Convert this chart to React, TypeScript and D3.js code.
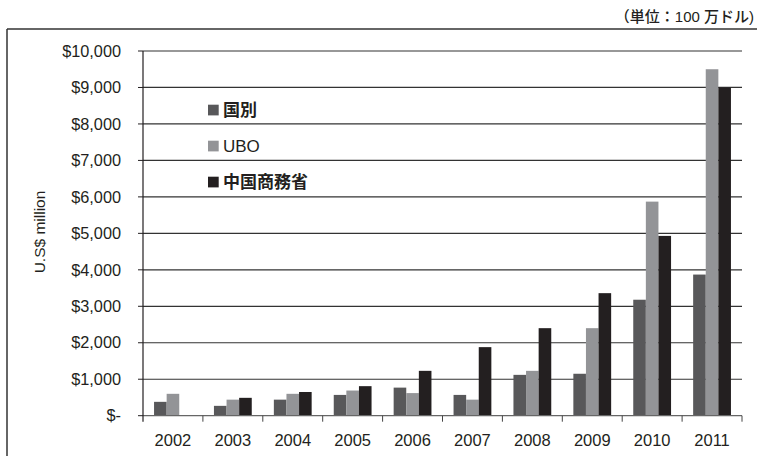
import React from "react";
import * as d3 from "d3";

const years = ["2002", "2003", "2004", "2005", "2006", "2007", "2008", "2009", "2010", "2011"];
const seriesNames = ["国別", "UBO", "中国商務省"];
const byCountry = [380, 270, 440, 570, 770, 570, 1120, 1150, 3180, 3870];
const ubo = [600, 440, 600, 690, 620, 440, 1230, 2400, 5870, 9500];
const mofcom = [0, 490, 650, 810, 1230, 1880, 2400, 3360, 4930, 9000];
const yTicks = [0, 1000, 2000, 3000, 4000, 5000, 6000, 7000, 8000, 9000, 10000];
const colors = ["#58585a", "#939497", "#231f20"];

const W = 757;
const H = 456;
const FONT = "'Liberation Sans', Arial, 'Noto Sans CJK JP', sans-serif";

export default function App() {
  const x = d3.scaleBand<string>().domain(years).range([143, 742]).paddingInner(0).paddingOuter(0);
  const y = d3.scaleLinear().domain([0, 10000]).range([415.7, 51]);
  const series = [byCountry, ubo, mofcom];
  const barW = 12.6;
  const fmt = (v: number) => (v === 0 ? "$-" : "$" + d3.format(",")(v));

  return (
    <svg width={W} height={H} style={{ position: "absolute", left: 0, top: 0, background: "#fff" }} fontFamily={FONT}>
      {/* frame */}
      <line x1={7} x2={W} y1={29} y2={29} stroke="#333" strokeWidth={1.5} />
      <line x1={7} x2={7} y1={29} y2={H} stroke="#333" strokeWidth={1.5} />
      <text x={754} y={22} textAnchor="end" fontSize={15} fill="#231f20" fontWeight={500}>（単位：100 万ドル)</text>

      {/* gridlines */}
      {yTicks.filter((t) => t > 0).map((t) => (
        <line key={t} x1={143} x2={742} y1={y(t)} y2={y(t)} stroke="#333" strokeWidth={1.2} />
      ))}

      {/* bars */}
      {years.map((yr, i) => {
        const cx = (x(yr) as number) + x.bandwidth() / 2;
        const start = cx - (barW * 3) / 2;
        return series.map((s, j) =>
          s[i] > 0 ? (
            <rect key={yr + j} x={start + j * barW} y={y(s[i])} width={barW} height={y(0) - y(s[i])} fill={colors[j]} />
          ) : null
        );
      })}

      {/* x axis */}
      <line x1={143} x2={742} y1={y(0)} y2={y(0)} stroke="#666" strokeWidth={1.2} />
      {years.map((yr) => (
        <line key={"t" + yr} x1={(x(yr) as number) + x.bandwidth()} x2={(x(yr) as number) + x.bandwidth()} y1={y(0)} y2={y(0) + 6} stroke="#444" strokeWidth={1} />
      ))}
      {years.map((yr) => (
        <text key={"l" + yr} x={(x(yr) as number) + x.bandwidth() / 2} y={445.5} textAnchor="middle" fontSize={16.5} fill="#231f20">{yr}</text>
      ))}

      {/* y axis */}
      <line x1={143} x2={143} y1={y(10000)} y2={y(0) + 6} stroke="#231f20" strokeWidth={1.2} />
      {yTicks.map((t) => (
        <g key={"y" + t}>
          <line x1={138} x2={143} y1={y(t)} y2={y(t)} stroke="#231f20" strokeWidth={1} />
          <text x={121} y={y(t) + 5.7} textAnchor="end" fontSize={16.3} fill="#231f20">{fmt(t)}</text>
        </g>
      ))}
      <text transform="translate(45,232) rotate(-90)" textAnchor="middle" fontSize={15.5} fill="#231f20">U.S$ million</text>

      {/* legend */}
      {seriesNames.map((n, j) => (
        <g key={n} transform={`translate(208,${110 + j * 36})`}>
          <rect x={0} y={-5.3} width={10.7} height={10.7} fill={colors[j]} />
          <text x={15} y={6.2} fontSize={17} fill="#231f20" fontWeight={/[A-Za-z]/.test(n) ? 400 : 600}>{n}</text>
        </g>
      ))}
    </svg>
  );
}
